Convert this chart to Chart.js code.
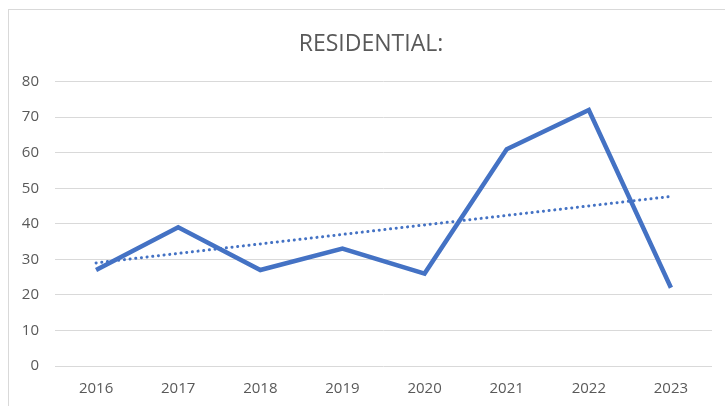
<!DOCTYPE html>
<html>
<head>
<meta charset="utf-8">
<script src="https://cdn.jsdelivr.net/npm/chart.js@4/dist/chart.umd.min.js"></script>
<style>
  html, body { margin: 0; padding: 0; background: #fff; overflow: hidden; }
  #box {
    position: absolute; left: 8px; top: 9px;
    width: 724px; height: 396px;
    border-top: 1px solid #d9d9d9; border-left: 1px solid #d9d9d9;
  }
</style>
</head>
<body>
<div id="box"><canvas id="grafico" width="724" height="396"></canvas></div>
<script>
const anos = ["2016", "2017", "2018", "2019", "2020", "2021", "2022", "2023"];
const residencial = [27, 39, 27, 33, 26, 61, 72, 22];
// linha de tendencia: so as pontas
const tendencia = [29, null, null, null, null, null, null, 47.7];
const yTicks = [0, 10, 20, 30, 40, 50, 60, 70, 80];

const azul = "#4472C4";
const cinza = "#595959";

document.addEventListener("DOMContentLoaded", () => {
  const ctx = document.getElementById("grafico").getContext("2d");

  new Chart(ctx, {
    type: "line",
    data: {
      labels: anos,
      datasets: [
        {
          label: "Residential",
          data: residencial,
          borderColor: azul,
          borderWidth: 4.5,
          borderJoinStyle: "miter",
          pointRadius: 0,
          tension: 0
        },
        {
          label: "Tendência",
          data: tendencia,
          borderColor: azul,
          borderWidth: 3,
          borderCapStyle: "round",
          borderDash: [0.1, 5.6],
          spanGaps: true,
          pointRadius: 0
        }
      ]
    },
    options: {
      responsive: false,
      animation: false,
      layout: { padding: 0 },
      plugins: {
        legend: { display: false },
        tooltip: { enabled: false },
        title: {
          display: true,
          text: "RESIDENTIAL:",
          color: cinza,
          font: { family: "Open Sans", size: 23, weight: "normal" },
          padding: { top: 21, bottom: 23 }
        }
      },
      scales: {
        x: {
          offset: true,
          grid: { display: false },
          border: { display: false },
          ticks: { color: cinza, font: { family: "Open Sans", size: 15 }, padding: 6 },
          afterFit: s => { s.height = 40; }
        },
        y: {
          min: 0,
          max: 80,
          afterBuildTicks: s => { s.ticks = yTicks.map(v => ({ value: v })); },
          grid: { color: "#d9d9d9", lineWidth: 1, drawTicks: false },
          border: { display: false },
          ticks: { color: cinza, font: { family: "Open Sans", size: 15 }, padding: 16 },
          afterFit: s => { s.width = 46; }
        },
        // eixo vazio so pra deixar espaco na direita
        direita: {
          position: "right",
          min: 0,
          max: 1,
          grid: { display: false },
          border: { display: false },
          ticks: { display: false },
          afterFit: s => { s.width = 21; }
        }
      }
    }
  });
});
</script>
</body>
</html>
